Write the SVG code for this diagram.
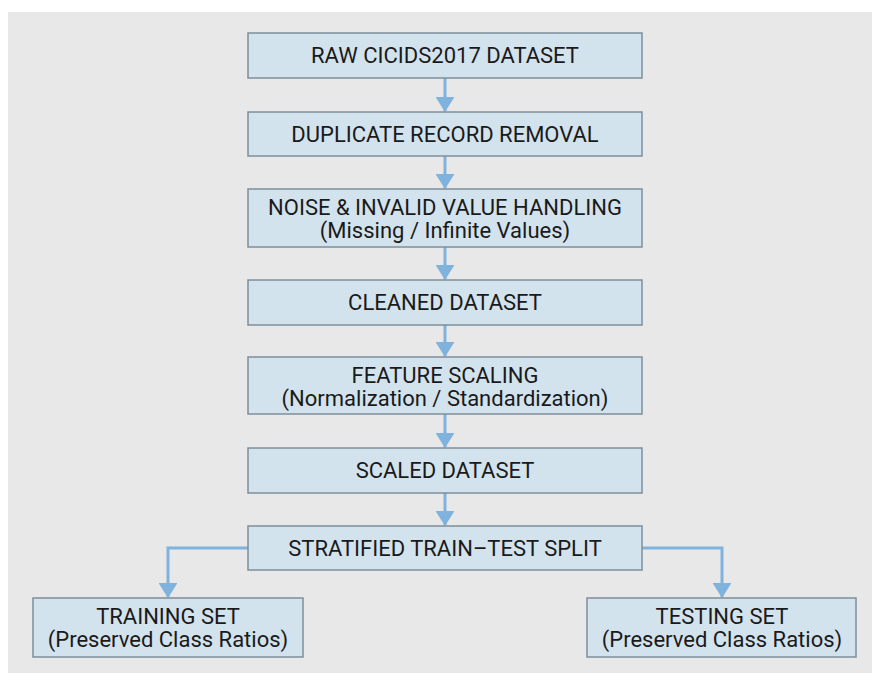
<svg xmlns="http://www.w3.org/2000/svg" width="872" height="673" viewBox="0 0 872 673">
  <style>
    .box { fill: #d3e3ee; stroke: #7d8f9b; stroke-width: 1.5; }
    .lbl { font-family: Roboto, "Liberation Sans", sans-serif; font-size: 22px; fill: #1a1a1a; text-anchor: middle; }
    .edge { fill: none; stroke: #7fb2dd; stroke-width: 3; }
  </style>
  <defs>
    <marker id="head" viewBox="0 0 8 10" refX="7.5" refY="5" markerWidth="5" markerHeight="6.3" markerUnits="strokeWidth" orient="auto" preserveAspectRatio="none">
      <path d="M0,0 L8,5 L0,10 Z" fill="#7fb2dd"/>
    </marker>
  </defs>

  <!-- page and backdrop panel -->
  <rect x="0" y="0" width="872" height="673" fill="#ffffff"/>
  <rect x="8" y="12" width="864" height="661" fill="#e8e8e8"/>

  <g id="connectors">
    <path class="edge" d="M445,78 V111" marker-end="url(#head)"/>
    <path class="edge" d="M445,156 V188" marker-end="url(#head)"/>
    <path class="edge" d="M445,247 V279" marker-end="url(#head)"/>
    <path class="edge" d="M445,325 V356" marker-end="url(#head)"/>
    <path class="edge" d="M445,414 V447" marker-end="url(#head)"/>
    <path class="edge" d="M445,493 V525" marker-end="url(#head)"/>
    <path class="edge" d="M248,548 H168 V597" marker-end="url(#head)"/>
    <path class="edge" d="M642,548 H722 V597" marker-end="url(#head)"/>
  </g>

  <g id="raw">
    <rect class="box" x="248" y="33" width="394" height="45"/>
    <text class="lbl" x="445" y="63">RAW CICIDS2017 DATASET</text>
  </g>
  <g id="dedup">
    <rect class="box" x="248" y="112" width="394" height="44"/>
    <text class="lbl" x="445" y="142">DUPLICATE RECORD REMOVAL</text>
  </g>
  <g id="noise">
    <rect class="box" x="248" y="189" width="394" height="58"/>
    <text class="lbl" x="445" y="215">NOISE &amp; INVALID VALUE HANDLING</text>
    <text class="lbl" x="445" y="238">(Missing / Infinite Values)</text>
  </g>
  <g id="cleaned">
    <rect class="box" x="248" y="280" width="394" height="45"/>
    <text class="lbl" x="445" y="310">CLEANED DATASET</text>
  </g>
  <g id="scaling">
    <rect class="box" x="248" y="357" width="394" height="57"/>
    <text class="lbl" x="445" y="383">FEATURE SCALING</text>
    <text class="lbl" x="445" y="406">(Normalization / Standardization)</text>
  </g>
  <g id="scaled">
    <rect class="box" x="248" y="448" width="394" height="45"/>
    <text class="lbl" x="445" y="478">SCALED DATASET</text>
  </g>
  <g id="split">
    <rect class="box" x="248" y="526" width="394" height="44"/>
    <text class="lbl" x="445" y="556">STRATIFIED TRAIN–TEST SPLIT</text>
  </g>
  <g id="training">
    <rect class="box" x="33" y="598" width="270" height="59"/>
    <text class="lbl" x="168" y="624">TRAINING SET</text>
    <text class="lbl" x="168" y="647">(Preserved Class Ratios)</text>
  </g>
  <g id="testing">
    <rect class="box" x="587" y="598" width="269" height="59"/>
    <text class="lbl" x="722" y="624">TESTING SET</text>
    <text class="lbl" x="722" y="647">(Preserved Class Ratios)</text>
  </g>
</svg>
